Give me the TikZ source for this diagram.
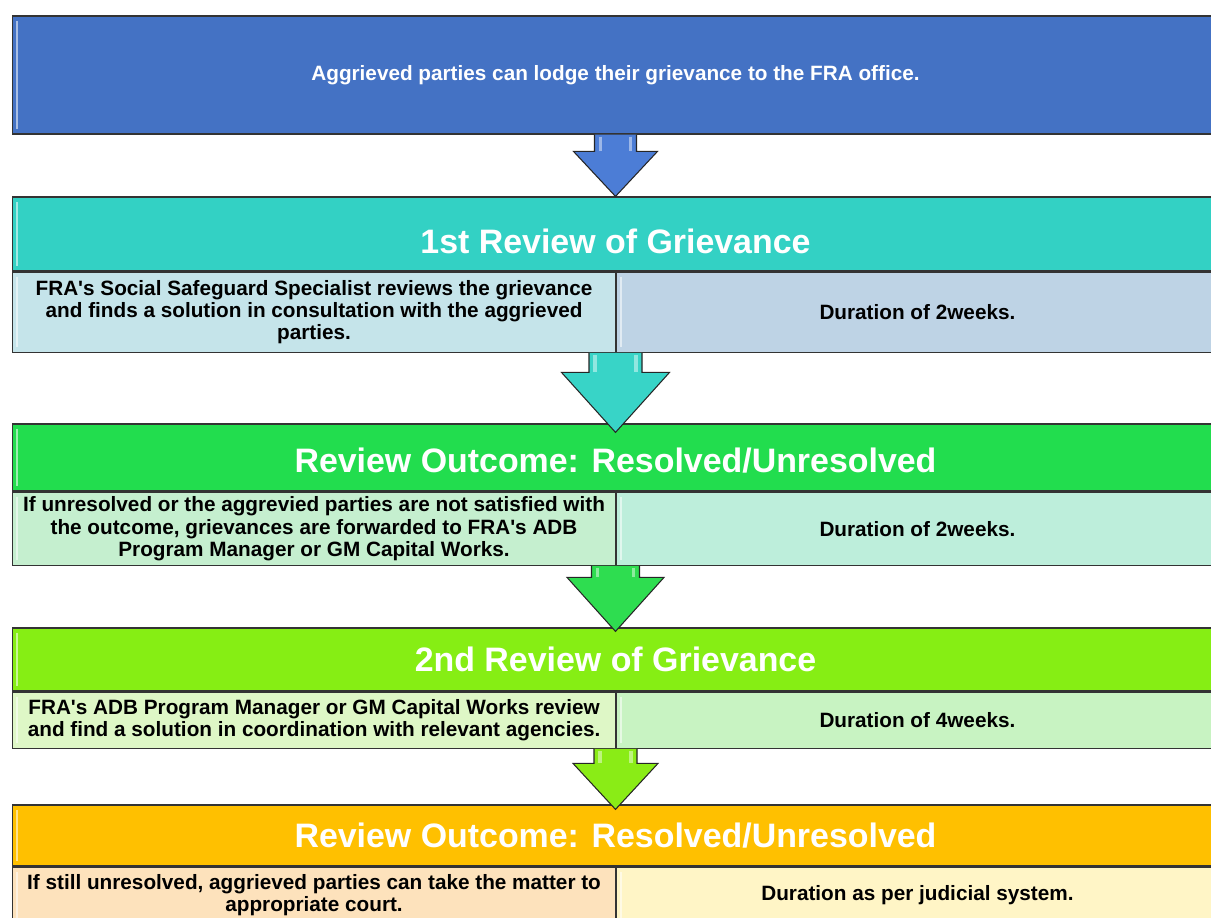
\documentclass[tikz,border=0pt]{standalone}
\usepackage{fontspec}
\setmainfont{Liberation Sans}[Ligatures=TeXOff]
\usetikzlibrary{calc}

\definecolor{topblue}{HTML}{4472C4}
\definecolor{tealhead}{HTML}{33D1C4}
\definecolor{tealleft}{HTML}{C5E4EA}
\definecolor{tealright}{HTML}{BED3E5}
\definecolor{greenhead}{HTML}{22DD4E}
\definecolor{greenleft}{HTML}{C5EFCF}
\definecolor{greenright}{HTML}{BDEEDB}
\definecolor{limehead}{HTML}{86EE14}
\definecolor{limeleft}{HTML}{DEF7C6}
\definecolor{limeright}{HTML}{C8F3C2}
\definecolor{orangehead}{HTML}{FFC000}
\definecolor{orangeleft}{HTML}{FDE2BC}
\definecolor{orangeright}{HTML}{FFF5C6}
\definecolor{arrblue}{HTML}{4C7DD6}
\definecolor{arrteal}{HTML}{38D4C7}
\definecolor{arrgreen}{HTML}{2EDD50}
\definecolor{arrlime}{HTML}{8AEC16}

\begin{document}
\begin{tikzpicture}[x=0.02cm,y=-0.02cm,
    box/.style={rectangle,draw=black!80,line width=0.7pt,inner sep=0pt,align=center,
      path picture={\draw[white,opacity=0.55,line width=1.2pt]
        ([shift={(5,5)}]path picture bounding box.north west) --
        ([shift={(5,-5)}]path picture bounding box.south west);}},
    head/.style={box,minimum width=24.14cm,text=white,font=\fontsize{19.3}{22}\selectfont\bfseries},
    cell/.style={box,font=\fontsize{11.8}{12.6}\selectfont\bfseries},
    leftcell/.style={cell,minimum width=12.08cm,anchor=north west},
    rightcell/.style={cell,minimum width=12.06cm,anchor=north east},
    outline/.style={draw=black!85,line width=0.6pt,line join=miter},
    gloss/.style={white,opacity=0.45,line width=2pt}]
  \useasboundingbox (0,0) rectangle (1211,917);
  \clip (0,0) rectangle (1211,917);

  % lodging the grievance
  \node[box,fill=topblue,minimum width=24.14cm,minimum height=2.36cm,text=white,
        font=\fontsize{11.8}{12.6}\selectfont\bfseries] (top) at (615.5,75)
        {Aggrieved parties can lodge their grievance to the FRA office.};

  % first review
  \node[head,fill=tealhead,minimum height=1.48cm,text height=22pt] (hB) at (615.5,234) {1st Review of Grievance};
  \node[leftcell,fill=tealleft,minimum height=1.6cm] (lB) at (hB.south west)
        {FRA's Social Safeguard Specialist reviews the grievance\\
         and finds a solution in consultation with the aggrieved\\ parties.};
  \node[rightcell,fill=tealright,minimum height=1.6cm] (rB) at (hB.south east) {Duration of 2weeks.};

  % outcome of first review
  \node[head,fill=greenhead,minimum height=1.34cm,text height=17pt] (hC) at (615.5,457.5) {Review Outcome: Resolved/Unresolved};
  \node[leftcell,fill=greenleft,minimum height=1.46cm] (lC) at (hC.south west)
        {If unresolved or the aggrevied parties are not satisfied with\\
         the outcome, grievances are forwarded to FRA's ADB\\
         Program Manager or GM Capital Works.};
  \node[rightcell,fill=greenright,minimum height=1.46cm] (rC) at (hC.south east) {Duration of 2weeks.};

  % second review
  \node[head,fill=limehead,minimum height=1.26cm] (hD) at (615.5,659.5) {2nd Review of Grievance};
  \node[leftcell,fill=limeleft,minimum height=1.12cm] (lD) at (hD.south west)
        {FRA's ADB Program Manager or GM Capital Works review\\
         and find a solution in coordination with relevant agencies.};
  \node[rightcell,fill=limeright,minimum height=1.12cm] (rD) at (hD.south east) {Duration of 4weeks.};

  % outcome of second review
  \node[head,fill=orangehead,minimum height=1.22cm] (hE) at (615.5,835.5) {Review Outcome: Resolved/Unresolved};
  \node[leftcell,fill=orangeleft,minimum height=1.12cm] (lE) at (hE.south west)
        {If still unresolved, aggrieved parties can take the matter to\\ appropriate court.};
  \node[rightcell,fill=orangeright,minimum height=1.12cm] (rE) at (hE.south east) {Duration as per judicial system.};

  % block arrows between the stages
  \foreach \src/\dst/\col/\sw/\hw/\hl/\td in {top/hB/arrblue/21/42/45/0,
      lB/hC/arrteal/26.5/54/51/9, lC/hD/arrgreen/24/48.5/50/4, lD/hE/arrlime/21.5/42.5/41/5}
  {
    \coordinate (p1) at ($(\dst |- \src.south)+(-\sw,0)$);
    \coordinate (p2) at ($(\dst.north)+(-\sw,-\hl)$);
    \coordinate (p3) at ($(\dst.north)+(-\hw,-\hl)$);
    \coordinate (p4) at ($(\dst.north)+(0,\td)$);
    \coordinate (p5) at ($(\dst.north)+(\hw,-\hl)$);
    \coordinate (p6) at ($(\dst.north)+(\sw,-\hl)$);
    \coordinate (p7) at ($(\dst |- \src.south)+(\sw,0)$);
    \fill[\col] (p1) -- (p2) -- (p3) -- (p4) -- (p5) -- (p6) -- (p7) -- cycle;
    \draw[gloss] ($(p1)+(6,2)$) -- ($(p2)+(6,0)$);
    \draw[gloss] ($(p7)+(-6,2)$) -- ($(p6)+(-6,0)$);
    \draw[outline] (p1) -- (p2) -- (p3) -- (p4) -- (p5) -- (p6) -- (p7);
  }
\end{tikzpicture}
\end{document}
